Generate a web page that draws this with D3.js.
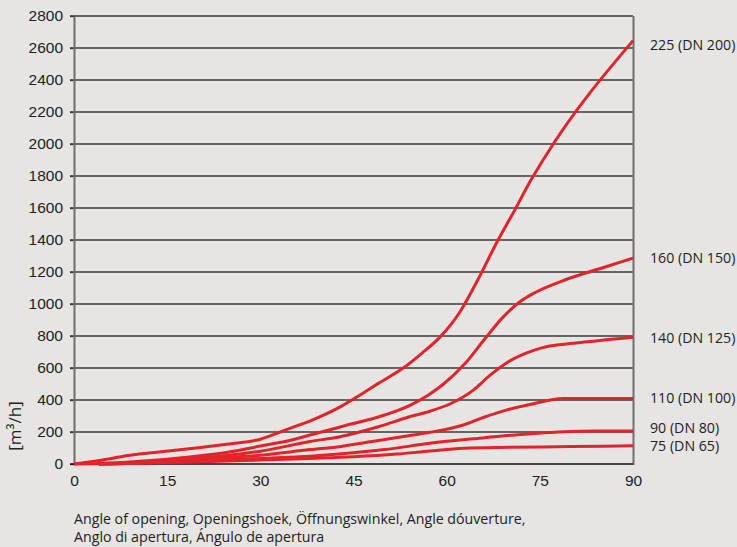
<!DOCTYPE html>
<html>
<head>
<meta charset="utf-8">
<script src="https://cdn.jsdelivr.net/npm/d3@7/dist/d3.min.js"></script>
<style>
  html, body { margin: 0; padding: 0; background: #e6e5e3; }
  svg { display: block; font-family: "Open Sans", sans-serif; }
</style>
</head>
<body>
<svg id="chart" width="737" height="547"></svg>
<script>
// ---- Data (angle of opening in degrees, flow in m³/h) ----
const xTicks = [0, 15, 30, 45, 60, 75, 90];
const yTicks = [0, 200, 400, 600, 800, 1000, 1200, 1400, 1600, 1800, 2000, 2200, 2400, 2600, 2800];

const seriesNames = ["225 (DN 200)", "160 (DN 150)", "140 (DN 125)", "110 (DN 100)", "90 (DN 80)", "75 (DN 65)"];

const dn200 = [[0,0],[3,15],[6,35],[9,55],[14,77],[20,102],[25,125],[30,155],[34,212],[39,285],[43,360],[46,430],[49,504],[53,600],[56,692],[59,796],[62,942],[65,1150],[68,1380],[71,1590],[73.5,1770],[76,1930],[90,2646]];
const dn150 = [[0,0],[4,3],[10,15],[19,46],[25,75],[30,112],[35,150],[38,181],[43,233],[50,306],[54,365],[57,430],[59.5,500],[63,629],[66,775],[69,915],[72,1020],[74,1067],[79,1150],[85,1225],[90,1287]];
const dn125 = [[4,0],[10,8],[19,35],[25,55],[30,80],[38,140],[43,172],[49,233],[54,295],[57.3,330],[60.5,375],[64.3,462],[67,555],[70.2,645],[74,710],[76,733],[80.4,754],[90,792]];
const dn100 = [[4,0],[10,6],[19,25],[25,40],[30,55],[38,90],[43,110],[48,140],[54.6,181],[57.3,198],[62.7,244],[66,292],[69.7,338],[73.4,372],[78.8,410],[90,410]];
const dn80  = [[4,0],[10,5],[19,18],[30,35],[38,48],[45,70],[50,90],[57.3,129],[65,160],[72,185],[78.8,202],[84,207],[90,206]];
const dn65  = [[4,0],[10,4],[19,12],[30,25],[38,35],[45,45],[52,62],[57.3,81],[62.7,98],[70,104],[80,109],[90,114]];

const series = [dn200, dn150, dn125, dn100, dn80, dn65];

const xTitle = ["Angle of opening, Openingshoek, Öffnungswinkel, Angle dóuverture,", "Anglo di apertura, Ángulo de apertura"];
const yTitle = "[m³/h]";

// ---- Drawing ----
const svg = d3.select("#chart");
const mLeft = 74, mRight = 633, mTop = 16, mBottom = 464;

const x = d3.scaleLinear().domain([0, 90]).range([mLeft, mRight]);
const y = d3.scaleLinear().domain([0, 2800]).range([mBottom, mTop]);

// gridlines
svg.append("g")
  .selectAll("line")
  .data(yTicks.filter(d => d > 0))
  .join("line")
  .attr("x1", mLeft - 4).attr("x2", mRight)
  .attr("y1", d => y(d)).attr("y2", d => y(d))
  .attr("stroke", "#3a3a3a").attr("stroke-width", 1.4);

// y axis
const yAxis = svg.append("g")
  .attr("transform", `translate(${mLeft},0)`)
  .call(d3.axisLeft(y).tickValues(yTicks).tickSize(4).tickPadding(7).tickFormat(d3.format("d")));
yAxis.select(".domain").remove();
yAxis.selectAll(".tick line").attr("stroke", "#3a3a3a").attr("stroke-width", 1.4);
yAxis.selectAll("text").attr("fill", "#222").style("font-size", "15.5px");

// x axis
const xAxis = svg.append("g")
  .attr("transform", `translate(0,${mBottom})`)
  .call(d3.axisBottom(x).tickValues(xTicks).tickSize(0).tickPadding(11));
xAxis.select(".domain").remove();
xAxis.selectAll("text").attr("fill", "#222").style("font-size", "15.5px");

// vertical frame lines
svg.append("line").attr("x1", mLeft + 0.5).attr("x2", mLeft + 0.5).attr("y1", mTop + 1).attr("y2", mBottom)
  .attr("stroke", "#6f6f6f").attr("stroke-width", 2);
svg.append("line").attr("x1", mRight + 0.5).attr("x2", mRight + 0.5).attr("y1", mTop).attr("y2", mBottom + 1)
  .attr("stroke", "#6f6f6f").attr("stroke-width", 2);

// zero line
svg.append("line").attr("x1", mLeft - 4).attr("x2", mRight).attr("y1", y(0)).attr("y2", y(0))
  .attr("stroke", "#111").attr("stroke-width", 1.4);

// curves
const line = d3.line().x(d => x(d[0])).y(d => y(d[1])).curve(d3.curveMonotoneX);
svg.append("g")
  .selectAll("path")
  .data(series)
  .join("path")
  .attr("d", line)
  .attr("fill", "none")
  .attr("stroke", "#e3232a")
  .attr("stroke-width", 3)
  .attr("stroke-linejoin", "round");

// series labels
const labelY = [45, 258, 338, 398, 428, 446];
svg.append("g")
  .selectAll("text")
  .data(seriesNames)
  .join("text")
  .attr("x", 650)
  .attr("y", (d, i) => labelY[i])
  .attr("dy", "0.35em")
  .attr("fill", "#222")
  .style("font-size", "14.2px")
  .text(d => d);

// y title
svg.append("text")
  .attr("transform", "translate(15,426) rotate(-90)")
  .attr("text-anchor", "middle")
  .attr("dy", "0.35em")
  .attr("fill", "#222")
  .style("font-size", "17px")
  .text(yTitle);

// x title
svg.append("g")
  .selectAll("text")
  .data(xTitle)
  .join("text")
  .attr("x", mLeft)
  .attr("y", (d, i) => 519 + i * 18.5)
  .attr("dy", "0.35em")
  .attr("fill", "#222")
  .style("font-size", "14.2px")
  .text(d => d);
</script>
</body>
</html>
